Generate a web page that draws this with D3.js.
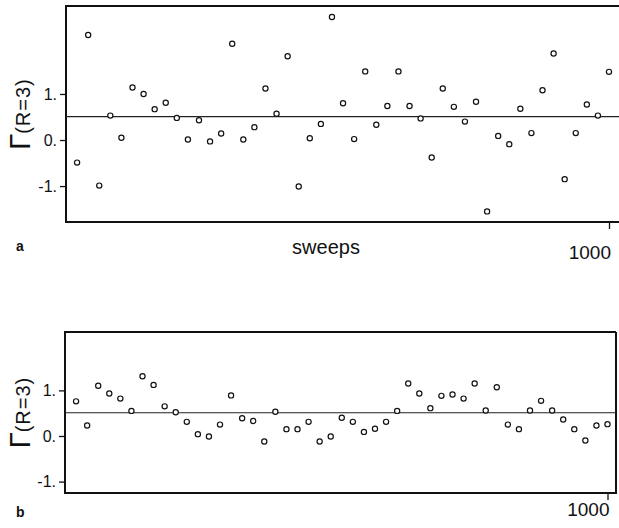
<!DOCTYPE html>
<html>
<head>
<meta charset="utf-8">
<script src="https://cdn.jsdelivr.net/npm/d3@7"></script>
<style>
  body { margin: 0; background: #fff; }
  svg { display: block; font-family: "Liberation Sans", Arial, sans-serif; }
</style>
</head>
<body>
<div id="chart"></div>
<script>
// Gamma(R=3) measured every 20 sweeps, two runs (a, b)

const sweeps = d3.range(40, 1001, 20);

const gammaA = [-0.49, 2.28, -0.99, 0.53, 0.05, 1.14, 1.00, 0.67, 0.81, 0.48,
  0.01, 0.43, -0.03, 0.14, 2.09, 0.01, 0.28, 1.12, 0.57, 1.82,
  -1.01, 0.04, 0.35, 2.67, 0.80, 0.02, 1.49, 0.33, 0.74, 1.49,
  0.74, 0.47, -0.38, 1.12, 0.72, 0.40, 0.83, -1.55, 0.09, -0.09,
  0.68, 0.15, 1.08, 1.88, -0.85, 0.15, 0.77, 0.53, 1.48];

const gammaB = [0.76, 0.23, 1.10, 0.93, 0.82, 0.55, 1.31, 1.12, 0.65, 0.52,
  0.31, 0.04, -0.01, 0.25, 0.89, 0.39, 0.33, -0.12, 0.53, 0.15,
  0.15, 0.31, -0.12, -0.01, 0.40, 0.31, 0.09, 0.16, 0.31, 0.55,
  1.15, 0.93, 0.61, 0.88, 0.91, 0.82, 1.15, 0.56, 1.07, 0.25,
  0.15, 0.56, 0.77, 0.56, 0.36, 0.15, -0.10, 0.23, 0.26];

// mean level drawn through each run
const meanA = 0.51;
const meanB = 0.51;

const yTicks = [-1, 0, 1];
const xTicks = [1000];

const width = 619, height = 528;

const svg = d3.select("#chart").append("svg")
  .attr("width", width)
  .attr("height", height);

// panel layout (pixels)
const panels = [
  { data: gammaA, mean: meanA, letter: "a",
    left: 66, right: 622, top: 6, bottom: 222,
    xEnd: 609, yDomain: [-1.78, 2.91],
    tickLabelY: 259, letterY: 251, showTitle: true },
  { data: gammaB, mean: meanB, letter: "b",
    left: 65, right: 616, top: 332, bottom: 493,
    xEnd: 607.5, yDomain: [-1.25, 2.28],
    tickLabelY: 516, letterY: 517, showTitle: false }
];

panels.forEach((p) => {
  const x = d3.scaleLinear().domain([20, 1000]).range([p.left, p.xEnd]);
  const y = d3.scaleLinear().domain(p.yDomain).range([p.bottom, p.top]);

  const g = svg.append("g");

  // frame
  g.append("path")
    .attr("d", `M${p.right},${p.top}H${p.left}V${p.bottom}H${p.right}` + (p.right < width ? `V${p.top}` : ""))
    .attr("fill", "none")
    .attr("stroke", "#111")
    .attr("stroke-width", 2);

  // y axis ticks
  const yAxis = d3.axisLeft(y)
    .tickValues(yTicks)
    .tickSize(6)
    .tickPadding(3)
    .tickFormat(d => d + ".");
  const ya = g.append("g")
    .attr("transform", `translate(${p.left},0)`)
    .call(yAxis);
  ya.select(".domain").remove();
  ya.selectAll("line").attr("stroke", "#111").attr("stroke-width", 1.3);
  ya.selectAll("text")
    .attr("font-size", 16)
    .attr("font-family", "Liberation Sans, Arial, sans-serif")
    .attr("fill", "#111");

  // x axis tick at 1000
  const xAxis = d3.axisBottom(x)
    .tickValues(xTicks)
    .tickSize(7)
    .tickFormat("");
  const xa = g.append("g")
    .attr("transform", `translate(0,${p.bottom})`)
    .call(xAxis);
  xa.select(".domain").remove();
  xa.selectAll("line").attr("stroke", "#111").attr("stroke-width", 1.3);

  g.append("text")
    .attr("x", x(1000) + 2)
    .attr("y", p.tickLabelY)
    .attr("text-anchor", "end")
    .attr("font-size", 19)
    .attr("fill", "#111")
    .text("1000");

  // mean line
  g.append("line")
    .attr("x1", p.left)
    .attr("x2", Math.min(p.right, width))
    .attr("y1", y(p.mean))
    .attr("y2", y(p.mean))
    .attr("stroke", "#222")
    .attr("stroke-width", 1.2);

  // data points
  g.selectAll("circle.pt")
    .data(p.data)
    .join("circle")
    .attr("class", "pt")
    .attr("cx", (d, i) => x(sweeps[i]))
    .attr("cy", d => y(d))
    .attr("r", 2.6)
    .attr("fill", "#fff")
    .attr("stroke", "#111")
    .attr("stroke-width", 1.2);

  // y label: Γ(R=3)
  const cy = (p.top + p.bottom) / 2;
  const lab = g.append("text")
    .attr("transform", `translate(30,${cy}) rotate(-90)`)
    .attr("text-anchor", "middle")
    .attr("fill", "#111");
  lab.append("tspan").attr("font-size", 29).text("Γ");
  lab.append("tspan").attr("font-size", 20).attr("letter-spacing", 1).text("(R=3)");

  // panel letter
  g.append("text")
    .attr("x", 16)
    .attr("y", p.letterY)
    .attr("font-size", 14)
    .attr("font-weight", "bold")
    .attr("fill", "#111")
    .text(p.letter);

  if (p.showTitle) {
    g.append("text")
      .attr("x", 326)
      .attr("y", 254)
      .attr("text-anchor", "middle")
      .attr("font-size", 20)
      .attr("fill", "#111")
      .text("sweeps");
  }
});
</script>
</body>
</html>
